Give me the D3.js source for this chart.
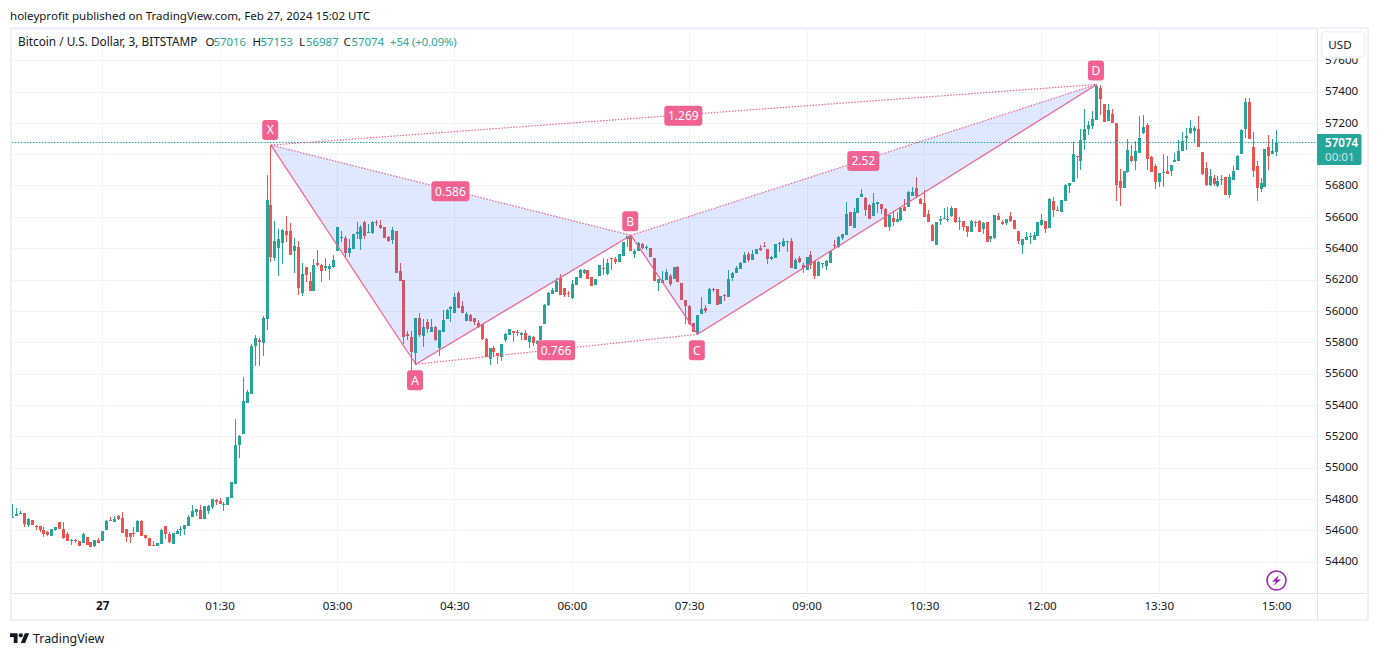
<!DOCTYPE html>
<html><head><meta charset="utf-8">
<script src="https://cdn.jsdelivr.net/npm/d3@7"></script>
<style>
html,body{margin:0;padding:0;background:#fff;overflow:hidden}
svg{display:block}
text{font-family:"Noto Sans",sans-serif;fill:#131722}
</style></head><body><svg id="c" width="1379" height="656"></svg>
<script>
const opens=[54680,54690,54705,54709,54633,54665,54626,54626,54601,54588,
54563,54601,54652,54607,54575,54533,54537,54531,54518,54556,
54524,54501,54537,54531,54601,54665,54652,54690,54678,54607,
54582,54582,54588,54661,54569,54550,54507,54499,54512,54626,
54578,54512,54575,54601,54607,54626,54684,54718,54729,54671,
54722,54750,54792,54786,54763,54761,54805,54894,55143,55214,
55412,55469,55775,55814,55795,55948,56676,56337,56401,56433,
56510,56510,56382,56407,56114,56280,56190,56127,56305,56293,
56273,56267,56280,56382,56465,56465,56369,56395,56490,56458,
56567,56497,56497,56567,56548,56535,56471,56452,56510,56254,
56197,55852,55833,55731,55954,55839,55929,55865,55897,55763,
55865,55948,56012,55986,56114,56031,55935,55973,55954,55922,
55916,55820,55692,55763,55731,55705,55814,55846,55871,55865,
55846,55858,55801,55833,55786,55814,55916,56037,56107,56120,
56209,56146,56114,56082,56165,56209,56241,56260,56216,56165,
56222,56273,56235,56337,56331,56312,56350,56458,56478,56363,
56382,56426,56401,56401,56337,56177,56177,56197,56222,56203,
56280,56177,56069,56031,55922,55852,55980,56018,56044,56139,
56139,56044,56101,56088,56209,56241,56267,56305,56363,56324,
56363,56401,56414,56395,56331,56337,56427,56414,56439,56446,
56267,56337,56292,56261,56356,56318,56222,56299,56286,56305,
56420,56407,56465,56484,56631,56529,56624,56727,56720,56676,
56605,56682,56682,56650,56535,56592,56567,56580,56663,56663,
56733,56784,56714,56688,56618,56548,56420,56573,56586,56580,
56605,56656,56567,56573,56541,56503,56567,56573,56522,56567,
56458,56465,56605,56567,56561,56605,56580,56510,56420,56452,
56471,56452,56478,56548,56573,56529,56701,56644,56631,56701,
56797,56822,56988,56956,57090,57161,57180,57218,57422,57320,
57212,57256,57199,56829,56784,56886,56988,56956,57007,57135,
57186,56982,56924,56822,56880,56892,56892,56950,56956,57020,
57103,57135,57148,57161,57014,56912,56803,56848,56797,56835,
56854,56739,56835,56899,57001,57161,57333,57046,56924,56778,
56790,57046,57001,57016];
const highs=[54767,54739,54722,54709,54675,54665,54631,54626,54618,54592,
54607,54618,54652,54652,54588,54541,54546,54531,54580,54556,
54524,54537,54548,54594,54665,54682,54690,54699,54716,54607,
54582,54618,54665,54665,54569,54550,54529,54520,54607,54626,
54590,54582,54607,54626,54633,54697,54761,54735,54761,54756,
54761,54799,54799,54805,54780,54812,54907,55311,55207,55577,
55494,55788,55846,55826,55967,56867,57058,56573,56522,56522,
56605,56561,56465,56446,56305,56280,56248,56331,56388,56299,
56337,56299,56356,56535,56510,56478,56458,56490,56567,56548,
56573,56554,56573,56580,56580,56535,56478,56535,56510,56305,
56197,55871,55871,55954,55986,55948,55948,55948,55903,55878,
56005,56012,56031,56114,56127,56063,55992,55980,55954,55941,
55916,55826,55763,55775,55731,55788,55858,55884,55871,55878,
55865,55878,55846,55839,55814,55903,56044,56120,56146,56210,
56235,56146,56126,56197,56216,56267,56267,56260,56216,56203,
56292,56337,56331,56337,56343,56363,56439,56478,56478,56395,
56439,56433,56420,56401,56337,56203,56254,56267,56235,56280,
56286,56177,56069,56037,55922,55973,56088,56037,56146,56146,
56139,56095,56107,56260,56248,56286,56312,56375,56375,56388,
56395,56420,56439,56395,56350,56427,56439,56465,56446,56465,
56337,56350,56303,56344,56382,56324,56318,56305,56324,56382,
56452,56478,56490,56695,56631,56656,56720,56778,56727,56682,
56752,56695,56682,56656,56612,56637,56631,56656,56714,56765,
56790,56854,56720,56771,56644,56554,56567,56605,56656,56663,
56669,56656,56599,56573,56541,56580,56573,56580,56567,56567,
56478,56612,56624,56580,56586,56631,56580,56510,56458,56503,
56497,56503,56567,56618,56573,56720,56727,56669,56707,56810,
56816,57078,56988,57161,57288,57212,57276,57448,57441,57320,
57320,57288,57199,56905,56892,57097,57058,57084,57244,57250,
57199,56988,56937,56880,57001,56988,56931,57007,57090,57141,
57167,57218,57180,57244,57014,56950,56905,56867,56861,56867,
56854,56873,56924,56995,57161,57358,57358,57141,56956,56848,
57033,57122,57097,57153];
const lows=[54679,54690,54705,54620,54620,54631,54601,54588,54556,54563,
54563,54597,54605,54543,54529,54505,54520,54499,54516,54503,
54492,54495,54520,54531,54601,54658,54652,54665,54584,54526,
54520,54558,54588,54563,54546,54499,54503,54499,54512,54543,
54516,54512,54575,54563,54569,54626,54684,54690,54671,54671,
54703,54735,54761,54767,54722,54761,54805,54894,55058,55214,
55412,55469,55648,55648,55712,55878,56312,56318,56222,56299,
56439,56356,56241,56101,56095,56184,56127,56127,56286,56184,
56254,56197,56273,56382,56441,56344,56344,56395,56458,56388,
56458,56497,56490,56541,56522,56465,56439,56427,56241,56190,
55788,55814,55609,55654,55833,55769,55858,55865,55807,55712,
55865,55948,55929,55986,56018,55986,55935,55929,55909,55890,
55814,55705,55654,55705,55660,55680,55801,55846,55801,55839,
55814,55814,55763,55775,55782,55814,55916,56031,56107,56120,
56101,56088,56088,56075,56165,56209,56235,56203,56158,56165,
56222,56229,56229,56260,56299,56312,56350,56407,56382,56337,
56382,56395,56388,56344,56190,56126,56177,56197,56158,56203,
56184,56069,55916,55909,55865,55852,55980,55986,56044,56120,
56037,56044,56063,56088,56190,56241,56267,56305,56312,56324,
56363,56382,56407,56299,56324,56337,56375,56410,56375,56273,
56267,56305,56241,56261,56267,56203,56222,56273,56261,56305,
56392,56401,56452,56484,56541,56529,56624,56727,56605,56586,
56605,56624,56618,56535,56510,56541,56567,56573,56637,56663,
56733,56720,56682,56599,56567,56446,56420,56548,56586,56567,
56599,56561,56516,56510,56471,56503,56535,56503,56490,56439,
56439,56458,56580,56548,56548,56567,56522,56427,56363,56452,
56427,56452,56478,56541,56497,56529,56599,56637,56631,56701,
56752,56822,56848,56899,57026,57122,57161,57218,57250,57205,
57212,57199,56701,56669,56784,56880,56950,56899,57007,57129,
56899,56886,56778,56790,56790,56873,56861,56950,56956,57020,
57026,57129,57078,57046,56867,56797,56797,56797,56790,56803,
56739,56720,56835,56899,57001,57103,57097,56854,56701,56758,
56790,56899,57001,56987];
const closes=[54684,54703,54709,54641,54671,54633,54622,54599,54575,54567,
54607,54618,54607,54550,54531,54537,54531,54499,54575,54505,
54495,54537,54520,54594,54661,54661,54671,54669,54584,54556,
54558,54575,54661,54563,54548,54499,54503,54516,54603,54575,
54522,54582,54594,54607,54633,54684,54722,54735,54671,54756,
54756,54799,54780,54767,54767,54812,54907,55143,55201,55424,
55482,55775,55826,55801,55954,56707,56344,56446,56458,56516,
56484,56356,56414,56146,56235,56229,56127,56293,56293,56254,
56286,56286,56324,56535,56471,56369,56401,56490,56503,56535,
56478,56503,56567,56561,56529,56465,56446,56516,56241,56190,
55833,55839,55737,55954,55846,55897,55884,55897,55814,55878,
55941,56005,56024,56088,56018,55986,55980,55935,55929,55897,
55820,55705,55763,55737,55712,55788,55852,55884,55858,55858,
55858,55814,55839,55795,55807,55903,56037,56114,56133,56190,
56101,56101,56107,56171,56216,56260,56260,56203,56158,56203,
56292,56267,56305,56331,56312,56363,56439,56478,56382,56382,
56433,56401,56407,56344,56190,56203,56197,56248,56171,56280,
56184,56069,56031,55916,55865,55973,56012,55999,56139,56133,
56037,56095,56095,56203,56241,56273,56305,56356,56324,56363,
56395,56388,56407,56331,56344,56427,56433,56446,56446,56273,
56324,56312,56273,56344,56292,56222,56312,56305,56318,56382,
56414,56471,56490,56618,56541,56631,56720,56746,56644,56586,
56688,56695,56650,56535,56612,56567,56586,56656,56637,56758,
56758,56733,56682,56599,56567,56446,56567,56586,56590,56586,
56656,56567,56573,56535,56503,56573,56561,56503,56561,56439,
56478,56612,56580,56554,56586,56573,56522,56446,56458,56471,
56478,56484,56567,56580,56522,56714,56644,56637,56707,56803,
56816,57001,56982,57090,57161,57186,57224,57435,57352,57205,
57282,57199,56803,56784,56892,57026,56956,57020,57103,57173,
56969,56886,56822,56880,56886,56873,56931,56963,57020,57084,
57116,57167,57167,57046,56873,56803,56861,56809,56829,56841,
56739,56854,56892,56988,57154,57333,57097,56892,56784,56816,
57033,56988,57020,57074];
const priceTicks=[54400,54600,54800,55000,55200,55400,55600,55800,56000,56200,56400,56600,56800,57200,57400,57600];
const gridPrices=[...priceTicks,57000,57800];
const timeTickBars=[23,53,83,113,143,173,203,233,263,293,323];
const timeLabels=["27","01:30","03:00","04:30","06:00","07:30","09:00","10:30","12:00","13:30","15:00"];
const patternNames=["X","A","B","C","D"];
const patternBars=[66,103,158,175,277];
const patternPrices=[57058,55659,56482,55850,57445];
const ratioPairs=[[0,4],[0,2],[1,3],[2,4]];
const ratioLabels=["1.269","0.586","0.766","2.52"];
const lastPrice=57074;

const UP="#26a69a",DOWN="#ef5350",PINK="#f06292",GRID="#f0f3fa",FRAME="#eff1f7",AXIS="#e0e3eb";
const svg=d3.select("#c");
const x=d3.scaleLinear().domain([0,323]).range([12.66,1276.66]);
const y=d3.scaleLinear().domain([54400,57400]).range([561.5,91.5]);
const L=12,R=1317,T=29,B=593;
svg.append("defs").append("clipPath").attr("id","pane").append("rect").attr("x",L).attr("y",T).attr("width",R-L).attr("height",B-T);

// published-by line
svg.append("text").attr("x",10).attr("y",19.5).attr("font-size",11.55).text("holeyprofit published on TradingView.com, Feb 27, 2024 15:02 UTC");

// frame
svg.append("rect").attr("x",11).attr("y",28).attr("width",1357).attr("height",592).attr("fill","none").attr("stroke",FRAME).attr("stroke-width",2);

// grid
const pane=svg.append("g").attr("clip-path","url(#pane)");
pane.selectAll(".h").data(gridPrices).join("line").attr("x1",L).attr("x2",R)
 .attr("y1",d=>Math.round(y(d))+.5).attr("y2",d=>Math.round(y(d))+.5).attr("stroke",GRID);
pane.selectAll(".v").data(timeTickBars).join("line").attr("y1",T).attr("y2",B)
 .attr("x1",d=>Math.floor(x(d))+.5).attr("x2",d=>Math.floor(x(d))+.5).attr("stroke",GRID);

// candles
const idx=d3.range(opens.length);
const col=i=>closes[i]>=opens[i]?UP:DOWN;
pane.append("g").selectAll("rect").data(idx).join("rect")
 .attr("x",i=>Math.floor(x(i))).attr("width",1)
 .attr("y",i=>Math.round(y(highs[i]))).attr("height",i=>Math.max(1,Math.round(y(lows[i]))-Math.round(y(highs[i]))))
 .attr("fill",col);
pane.append("g").selectAll("rect").data(idx).join("rect")
 .attr("x",i=>Math.floor(x(i))-1).attr("width",3)
 .attr("y",i=>Math.round(y(Math.max(opens[i],closes[i])))).attr("height",i=>Math.max(1,Math.round(y(Math.min(opens[i],closes[i])))-Math.round(y(Math.max(opens[i],closes[i])))))
 .attr("fill",col);

// last price line
pane.append("line").attr("x1",L).attr("x2",R).attr("y1",Math.floor(y(lastPrice))+.5).attr("y2",Math.floor(y(lastPrice))+.5)
 .attr("stroke",UP).attr("stroke-width",1).attr("stroke-dasharray","1.5 1.5");

// harmonic pattern
const px=i=>x(patternBars[i]),py=i=>y(patternPrices[i]);
const tri=a=>a.map(i=>`${px(i)},${py(i)}`).join(" ");
pane.selectAll(".tri").data([[0,1,2],[2,3,4]]).join("polygon").attr("points",tri).attr("fill","rgba(41,98,255,0.15)");
d3.pairs([0,1,2,3,4]).forEach(([a,b])=>pane.append("line").attr("x1",px(a)).attr("y1",py(a)).attr("x2",px(b)).attr("y2",py(b)).attr("stroke",PINK).attr("stroke-width",1.2));
ratioPairs.forEach(([a,b])=>pane.append("line").attr("x1",px(a)).attr("y1",py(a)).attr("x2",px(b)).attr("y2",py(b)).attr("stroke",PINK).attr("stroke-width",1.2).attr("stroke-dasharray","1.5 1.5"));
function badge(cx,cy,w,t){
 svg.append("rect").attr("x",cx-w/2).attr("y",cy-10).attr("width",w).attr("height",20).attr("rx",3).attr("fill",PINK);
 svg.append("text").attr("x",cx).attr("y",cy+4.3).attr("text-anchor","middle").attr("font-size",12).style("fill","#fff").text(t);
}
const nameOff=[-15,16,-14,16,-14];
patternNames.forEach((n,i)=>badge(px(i)-0.7,py(i)+nameOff[i],16,n));
ratioPairs.forEach(([a,b],k)=>badge((px(a)+px(b))/2-0.5,(py(a)+py(b))/2+1,ratioLabels[k].length>4?38:32,ratioLabels[k]));

// axes
svg.append("line").attr("x1",L).attr("x2",1367).attr("y1",593.5).attr("y2",593.5).attr("stroke",AXIS);
svg.append("line").attr("x1",1317.5).attr("x2",1317.5).attr("y1",29).attr("y2",619).attr("stroke",AXIS);
const ya=d3.axisRight(y).tickValues(priceTicks).tickSize(0).tickPadding(0).tickFormat(d3.format("d"));
const yg=svg.append("g").attr("transform","translate(1325,-0.5)").call(ya);
yg.select(".domain").remove();
yg.selectAll("text").attr("font-size",11.6).attr("font-family",null).attr("dy",".33em");
const xa=d3.axisBottom(x).tickValues(timeTickBars).tickSize(0).tickPadding(0).tickFormat((d,i)=>timeLabels[i]);
const xg=svg.append("g").attr("transform","translate(-0.5,601)").call(xa);
xg.select(".domain").remove();
xg.selectAll("text").attr("font-size",11.6).attr("font-family",null).attr("dy",".75em").style("font-weight",(d,i)=>i==0?"700":"400");

// USD button
svg.append("rect").attr("x",1321.5).attr("y",31.5).attr("width",43).attr("height",26).attr("rx",4).attr("fill","#fff").attr("stroke",FRAME).attr("stroke-width",2);
svg.append("text").attr("x",1340).attr("y",48.5).attr("text-anchor","middle").attr("font-size",11.6).text("USD");

// last price tag
svg.append("path").attr("d","M1317 134H1359.5a2 2 0 0 1 2 2V163a2 2 0 0 1 -2 2H1317Z").attr("fill",UP);
svg.append("text").attr("x",1325).attr("y",147).attr("font-size",11.6).attr("font-weight",600).style("fill","#fff").text(lastPrice);
svg.append("text").attr("x",1325).attr("y",161).attr("font-size",11.6).style("fill","#c6e9e5").text("00:01");

// legend line
const legend=[[18,"Bitcoin / U.S. Dollar, 3, BITSTAMP","#131722",11.8],[205.5,"O","#131722",11.6],[213.5,"57016",UP,11.4],[252.5,"H","#131722",11.6],[260.5,"57153",UP,11.4],[299,"L","#131722",11.6],[306,"56987",UP,11.4],[343.5,"C","#131722",11.6],[351.5,"57074",UP,11.4],[390,"+54 (+0.09%)",UP,11.2]];
svg.selectAll(".lg").data(legend).join("text").attr("x",d=>d[0]).attr("y",46).attr("font-size",d=>d[3]).style("fill",d=>d[2]).text(d=>d[1]);

// purple bolt
const bolt=svg.append("g").attr("transform","translate(1276.5,580.5)");
bolt.append("circle").attr("r",9.5).attr("fill","#fff").attr("stroke","#9c27b0").attr("stroke-width",1.6);
bolt.append("path").attr("d","M2.5 -5.5L-4.5 1H-0.5L-3 5.5L4.5 -1H0.5Z").attr("fill","#9c27b0");

// logo
const logo=svg.append("g").attr("transform","translate(10,631) scale(0.54)").attr("fill","#131722");
logo.append("path").attr("d","M14 22H7V11H0V4h14v18zM28 22h-8l7.5-18h8L28 22z");
logo.append("circle").attr("cx",20).attr("cy",8).attr("r",4);
svg.append("text").attr("x",33).attr("y",643).attr("font-size",12.4).text("TradingView");
</script></body></html>
